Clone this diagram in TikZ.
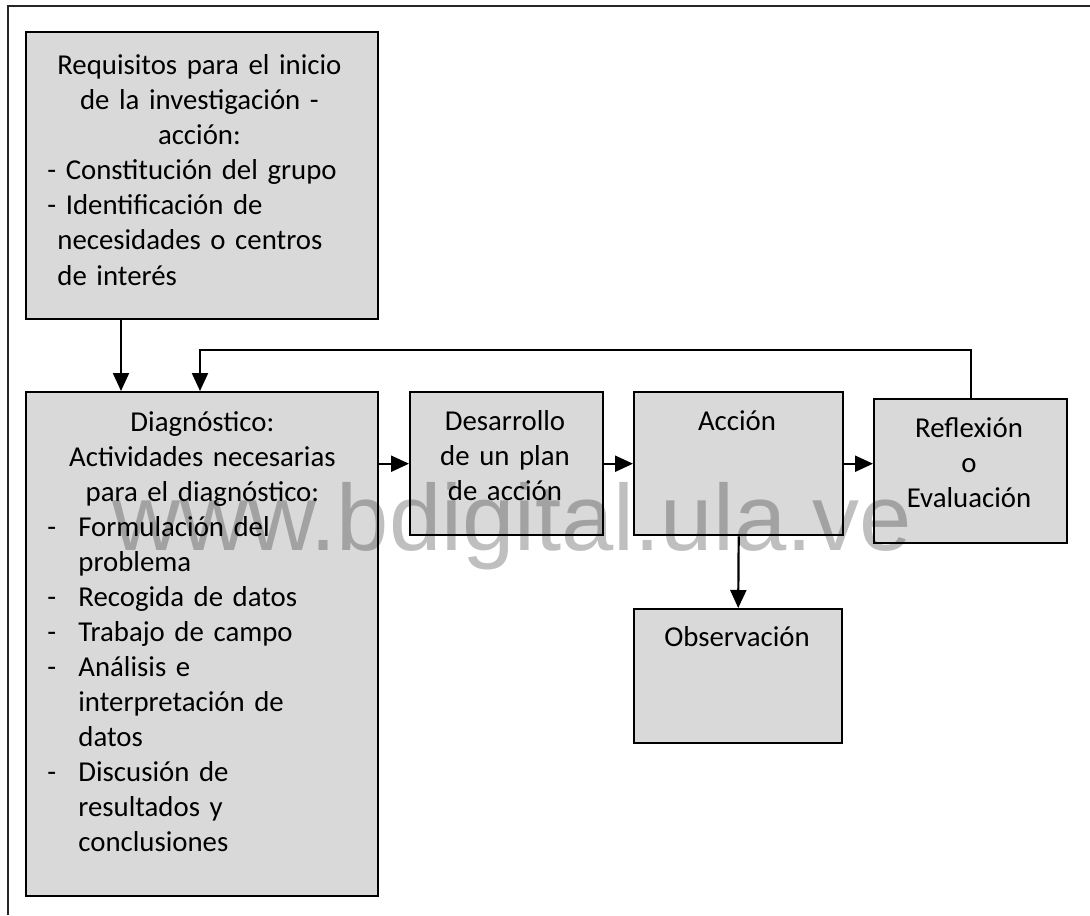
\documentclass[tikz,border=0pt]{standalone}
\usepackage{fontspec}
\setmainfont{Carlito}
\newfontfamily\wmfont{Liberation Sans}
\usetikzlibrary{arrows.meta}
\definecolor{boxgray}{HTML}{D9D9D9}
\begin{document}
\begin{tikzpicture}[x=0.5pt,y=-0.5pt,
  box/.style={draw=black,fill=boxgray,line width=1.2pt,anchor=north west,inner sep=0pt},
  txt/.style={inner sep=0pt,font=\fontsize{14.4}{17.5}\selectfont},
  arr/.style={line width=1.1pt,-{Triangle[length=9pt,width=8pt]}}]
\useasboundingbox (0,0) rectangle (1090,915);
\draw [black!85,line width=0.8pt] (8,915) -- (8,6) -- (1090,6);
\node [box,minimum width=176pt,minimum height=143.5pt] (req) at (25,31) {};
\node [box,minimum width=176pt,minimum height=252pt] (diag) at (25,391) {};
\node [box,minimum width=96.5pt,minimum height=71.5pt] (des) at (409,391) {};
\node [box,minimum width=104.5pt,minimum height=71.5pt] (acc) at (633,391) {};
\node [box,minimum width=96.5pt,minimum height=72pt] (ref) at (873,398) {};
\node [box,minimum width=104pt,minimum height=67pt] (obs) at (633,608) {};
\node [txt,anchor=base west,text width=152pt] (reqtxt) at (47,75)
  {{\centering Requisitos para el inicio\\ de la investigación -\\ acción:\par}
   \raggedright\hbox{- Constitución del grupo}
   \hbox{- Identificación de}
   \hbox{\hspace*{5pt}necesidades o centros}
   \hbox{\hspace*{5pt}de interés}};
\node [txt,anchor=base west,text width=155pt] (diagtxt) at (47,431)
  {{\centering Diagnóstico:\\ Actividades necesarias\\ para el diagnóstico:\par}
   \raggedright \makebox[15.5pt][l]{-}Formulación del\\
   \hspace*{15.5pt}problema\\
   \makebox[15.5pt][l]{-}Recogida de datos\\
   \makebox[15.5pt][l]{-}Trabajo de campo\\
   \makebox[15.5pt][l]{-}Análisis e\\
   \hspace*{15.5pt}interpretación de\\
   \hspace*{15.5pt}datos\\
   \makebox[15.5pt][l]{-}Discusión de\\
   \hspace*{15.5pt}resultados y\\
   \hspace*{15.5pt}conclusiones};
\node [txt,anchor=base,text width=90pt,align=center] (destxt) at (505,430) {Desarrollo\\ de un plan\\ de acción};
\node [txt,anchor=base] (acctxt) at (737,430) {Acción};
\node [txt,anchor=base,text width=90pt,align=center] (reftxt) at (969,437) {Reflexión\\ o\\ Evaluación};
\node [txt,anchor=base] (obstxt) at (737,646) {Observación};
\coordinate (loop) at (200,350);
\draw [arr] (121,0 |- req.south) -- (121,0 |- diag.north);
\draw [arr] (ref.north) |- (loop) -- (loop |- diag.north);
\draw [arr] (diag.east |- des.west) -- (des.west);
\draw [arr] (des.east) -- (acc.west);
\draw [arr] (acc.east) -- (acc.east -| ref.west);
\draw [arr] (acc.south) -- (obs.north);
\node [anchor=base west,inner sep=0pt,text=black,text opacity=0.25,font=\wmfont\fontsize{47}{47}\selectfont] (wm) at (112,550) {www.bdigital.ula.ve};
\end{tikzpicture}
\end{document}
